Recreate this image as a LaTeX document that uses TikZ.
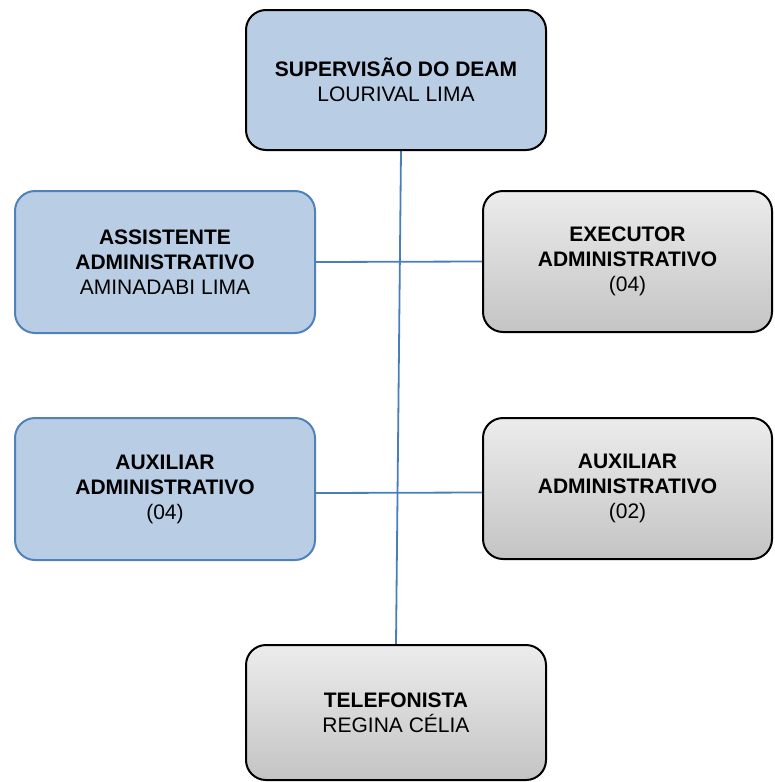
\documentclass[tikz,border=0pt]{standalone}
\usepackage{fontspec}
\setmainfont{Liberation Sans}
\usetikzlibrary{backgrounds}
\definecolor{boxblue}{RGB}{185,205,229}
\definecolor{edgeblue}{RGB}{79,129,189}
\definecolor{linkblue}{RGB}{74,126,187}
\definecolor{graytop}{RGB}{236,236,236}
\definecolor{graybot}{RGB}{196,196,196}
\tikzset{
  orgbox/.style={rectangle, rounded corners=20pt, line width=2pt, align=center,
    inner sep=0pt, font=\fontsize{21}{25}\selectfont},
  bluebox/.style={orgbox, fill=boxblue},
  bluebord/.style={bluebox, draw=edgeblue},
  blackbord/.style={bluebox, draw=black},
  graybox/.style={orgbox, draw=black, top color=graytop, bottom color=graybot},
  link/.style={draw=linkblue, line width=1.8pt}
}
\begin{document}
\begin{tikzpicture}[x=1pt,y=1pt]
\useasboundingbox (0,0) rectangle (774,-782);
\node[blackbord, minimum width=300pt, minimum height=140pt] (sup) at (396,-80)
  {\textbf{SUPERVISÃO DO DEAM}\\LOURIVAL LIMA};
\node[bluebord, minimum width=300pt, minimum height=142pt] (ass) at (165,-262)
  {\textbf{ASSISTENTE}\\\textbf{ADMINISTRATIVO}\\AMINADABI LIMA};
\node[graybox, minimum width=289pt, minimum height=141pt] (exe) at (627.5,-261.5)
  {\textbf{EXECUTOR}\\\textbf{ADMINISTRATIVO}\\(04)};
\node[bluebord, minimum width=300pt, minimum height=142pt] (aux1) at (165,-489)
  {\textbf{AUXILIAR}\\\textbf{ADMINISTRATIVO}\\(04)};
\node[graybox, minimum width=289pt, minimum height=141pt] (aux2) at (627.5,-488.5)
  {\textbf{AUXILIAR}\\\textbf{ADMINISTRATIVO}\\(02)};
\node[graybox, minimum width=300pt, minimum height=135pt] (tel) at (396,-712.5)
  {\textbf{TELEFONISTA}\\REGINA CÉLIA};
\begin{scope}[on background layer]
\draw[link] ([xshift=5pt]sup.south) -- (tel.north);
\draw[link] (ass.east) -- (exe.west);
\draw[link] ([yshift=-4pt]aux1.east) -- ([yshift=-4pt]aux2.west);
\end{scope}
\end{tikzpicture}
\end{document}
